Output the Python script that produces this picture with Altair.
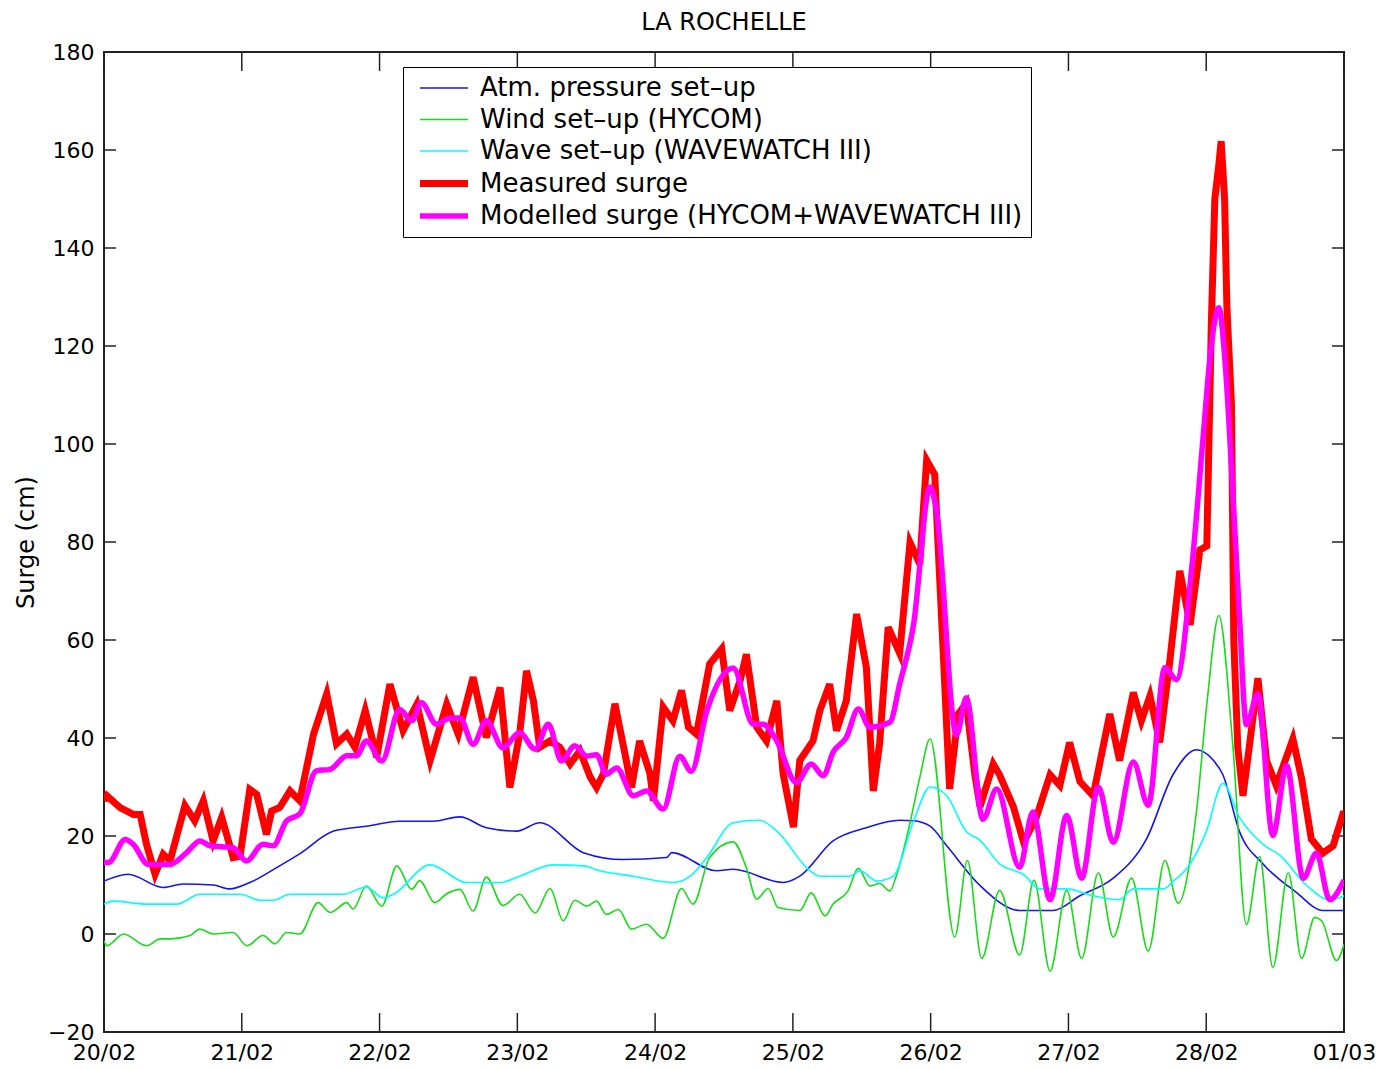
import altair as alt
import pandas as pd

FONT = "DejaVu Sans"

# ---------------- axis ticks / labels ----------------
HOUR_TICKS = [0, 24, 48, 72, 96, 120, 144, 168, 192, 216]
DATE_LABELS = ["20/02", "21/02", "22/02", "23/02", "24/02", "25/02", "26/02", "27/02", "28/02", "01/03"]
Y_TICKS = [-20, 0, 20, 40, 60, 80, 100, 120, 140, 160, 180]

SERIES = [
    "Atm. pressure set\u2013up",
    "Wind set\u2013up (HYCOM)",
    "Wave set\u2013up (WAVEWATCH III)",
    "Measured surge",
    "Modelled surge (HYCOM+WAVEWATCH III)",
]
COLORS = ["#1414f0", "#18dc18", "#00ffff", "#ff0000", "#ff00ff"]
WIDTHS = [1.6, 1.6, 1.6, 7, 5.5]

# ---------------- data (hours since 20/02 00:00, surge in cm) ----------------
atm_h = [0, 4.2, 10.3, 13.8, 19, 21.9, 25.4, 30, 34, 40, 45.7, 51.5, 57.3, 62, 66.6, 71.9, 75.9, 83.5, 90.4, 98,
         98.9, 106.7, 109.6, 118.3, 121.2, 127, 132.8, 138.6, 141, 143.9, 146.8, 152.6, 159.5, 165.3, 170, 175.8,
         181.6, 186.2, 190.3, 193.2, 194.9, 197.8, 201.9, 207.7, 212.3, 216]
atm_v = [10.8, 12.2, 9.5, 10.2, 10, 9.2, 10.5, 13.5, 16.3, 21, 22, 23, 23, 23.9, 21.7, 21, 22.7, 16.6, 15.2, 15.6,
         16.6, 12.9, 13.2, 10.5, 11.8, 19, 21.7, 23.2, 23.1, 22, 18, 9.9, 4.8, 4.8, 7.8, 11.4,
         19.4, 32.5, 37.6, 35.5, 32.5, 20.9, 14.3, 8.5, 4.8, 4.8]

wind_h = [0, 0.5, 3.4, 7.4, 9.8, 11.5, 15, 16.7, 19, 22.5, 24.9, 27.7, 29.8, 31.8, 34.1, 37.3, 39.4, 42.3, 43.4,
          45.7, 48.4, 51, 53.6, 55, 57.6, 59.7, 62, 64.3, 66.6, 69.5, 72.4, 75.1, 77.7, 80, 82, 84.1, 85.8, 87.5,
          89.6, 91.9, 94.5, 97.4, 100.6, 102.6, 105.5, 109.6, 111.9, 113.7, 115.7, 117.4, 121.2, 123.2, 125.6,
          127, 129.6, 131.4, 133.4, 135.1, 136.9, 138, 140.4, 142.1, 143.9, 148.2, 150.4, 152.9, 156, 159.5, 162,
          164.8, 167.7, 170.3, 173.2, 175.8, 179, 181.9, 184.8, 187.1, 190.3, 192.2, 194.2, 196.6, 199, 201.3,
          203.6, 206.3, 208.6, 210.9, 212.1, 214.7, 216]
wind_v = [-1.4, -2.4, 0, -2.4, -1.0, -1.0, -0.3, 1.0, 0, 0.3, -2.4, -0.3, -2.0, 0.3, 0, 6.4, 4.4, 6.4, 5.1,
          9.8, 5.7, 13.9, 9.1, 10.9, 6.4, 8.2, 9.1, 4.7, 11.6, 5.8, 8.1, 4.3, 9.3, 2.7, 6.9, 5.7, 6.7, 4.0,
          5.0, 1.0, 2.0, -0.9, 9.3, 6.1, 15.6, 18.8, 13.5, 7.1, 9.3, 5.4, 4.8, 8.4, 3.7,
          6.1, 8.8, 13.4, 9.8, 10.3, 8.8, 11.8, 22.7, 31.9, 39.8, -0.6, 15, -5, 8.9, -4.3, 11,
          -7.6, 8.9, -5, 12.5, -0.6, 11.4, -3.5, 15, 6.3, 25, 48, 65, 39, 1.9, 15.8,
          -6.8, 12.5, -5, 3.4, 2.7, -5.4, -2.1]

wave_h = [0, 1.6, 7.4, 12.7, 16.7, 23.7, 27.2, 29.5, 32.4, 41.7, 45.7, 48.6, 50.4, 56.8, 63.2, 69, 72.4, 78.2,
          83.5, 86.4, 92.2, 99.1, 102.1, 105, 109.6, 114.2, 117.2, 123, 124.7, 129.9, 131.7, 134.6, 137.5, 141,
          143.9, 146.8, 150.2, 152.6, 156, 160.2, 163, 167.7, 172.3, 176.9, 179.3, 184.5, 186.2, 189.2, 192,
          194.9, 197.8, 201.9, 204.8, 209.5, 213.5, 216]
wave_v = [6.1, 6.7, 6.1, 6.1, 8.1, 8.1, 6.9, 6.9, 8.1, 8.1, 9.6, 7.4, 8.1, 14.1, 10.5, 10.5, 11.8, 14.1,
          13.9, 12.9, 11.8, 10.5, 11.8, 15.6, 22.7, 23.2, 21, 12.9, 11.8, 11.8, 12.9, 10.8, 11.8, 23,
          30, 28.2, 20.9, 19.1, 14.3, 12.1, 9.2, 9.2, 7.8, 7, 9.2, 9.2, 10.7, 14.3, 20.9,
          30.7, 23.8, 18.3, 16.1, 9.9, 7, 7.8]

meas_h = [0, 0.5, 2.8, 5.1, 6.3, 7.4, 8.9, 10.3, 11.5, 14.1, 15.8, 17.3, 19, 20.5, 22.5, 23.7, 25.4, 26.6, 28.3,
          29.2, 30.6, 32.4, 34.1, 36.5, 38.8, 40.5, 42.3, 43.7, 45.5, 47.5, 49.8, 52.1, 54.5, 56.8, 59.7, 61.7,
          64.3, 66.6, 69, 70.7, 72.4, 73.6, 74.8, 75.9, 77.7, 79.4, 81.2, 82.9, 84.7, 85.8, 87, 89, 90.4, 91.9,
          93.3, 95.1, 95.7, 97.4, 99.1, 100.6, 101.8, 103.2, 105.5, 107.6, 109, 110.8, 111.9, 113.7, 115.4,
          117.2, 118.3, 120.1, 121.2, 123.5, 124.7, 126.4, 127.6, 129.3, 131.1, 132.8, 134, 135.1, 136.6, 138.6,
          140.4, 142.1, 143.3, 144.7, 145.9, 147.3, 148.8, 150.2, 151.7, 152.6, 154.9, 156, 158.4, 160.2, 162.4,
          164.8, 166.5, 168.2, 170, 172.3, 175.2, 176.9, 179.3, 180.7, 182.2, 183.9, 185.6, 187.4, 189.2, 190.9,
          192.1, 192.9, 193.5, 194.2, 194.6, 195.2, 195.6, 196.4, 196.8, 197.5, 198.4, 199.6, 201, 202.5, 204.2,
          207.1, 208.6, 210.3, 212.3, 214.1, 215.8, 216]
meas_v = [27.2, 28.2, 25.8, 24.4, 24.4, 18.3, 12.2, 16.3, 14.9, 26.2, 23.1, 27.2, 19, 23.8, 15.6, 15.9, 29.5,
          28.5, 20.3, 25.1, 25.8, 29.2, 27.2, 40.8, 49, 38.8, 40.8, 38.1, 45.6, 36.1, 51, 41.5, 46.9, 35.4, 46.9,
          40.8, 52.4, 40.1, 50.3, 29.9, 40.8, 53.7, 47.6, 38.1, 39.4, 38.1, 34.7, 37.4, 32, 29.9, 32.7, 47, 38.8,
          29.9, 39.4, 32.7, 27.2, 46.3, 43.5, 49.7, 42.2, 40.8, 55.1, 58.2, 45.6, 51.7, 57.1, 42.2, 39.4, 47.6,
          32.7, 21.8, 35.4, 39.4, 45.6, 51, 41.5, 47.6, 65.3, 54.4, 29.2, 38.8, 62.6, 57.3, 79.9, 75.5, 96.7,
          93.8, 64.6, 29.6, 44.9, 47.1, 32.5, 26, 34.7, 32.5, 26, 18.7, 23.8, 32.5, 30.3, 39.1, 31.1, 28.2, 44.9,
          35.4, 49.3, 43.5, 48.6, 39.1, 55.1, 74.1, 63.1, 78.4, 79.2, 125, 150, 157, 161.8, 150, 128, 108, 60,
          38, 28.2, 39.1, 52.2, 35.4, 30.3, 39.8, 31.8, 19.4, 16.5, 18, 24.5, 24.5]

mod_h = [0, 0.8, 3.7, 5.1, 7.7, 11.5, 14.4, 16.7, 18.5, 22.5, 24.8, 27.7, 29.5, 31.8, 34.1, 37.0, 39.4, 42.3, 44,
         45.7, 48.4, 51.5, 53.6, 55.3, 57.9, 60.3, 62, 64.3, 66.6, 69.5, 72.4, 75.1, 77.4, 79.7, 82, 84.1, 85.8,
         87.5, 89.3, 92.2, 94.5, 97.4, 100.3, 102.3, 105, 109.6, 113.1, 114.8, 117.2, 120.6, 123.2, 125.3, 127,
         129.3, 131.4, 133.4, 136.9, 138.6, 141, 143.9, 145, 148.5, 150.2, 153.1, 155.5, 159.5, 161.8, 164.8,
         167.7, 170.3, 173.2, 175.8, 179.3, 181.9, 184.8, 186.8, 189.5, 191.5, 192.6, 194.2, 195.2, 196.5, 197.8,
         199, 201, 203.6, 206, 208.9, 211.2, 213.5, 216]
mod_v = [14.6, 14.6, 19.3, 18.3, 14.2, 14.2, 16.6, 19, 18, 17.6, 14.9, 18.3, 18, 23.1, 24.5, 33.3, 33.6, 36.4, 36.4,
         39.4, 35.3, 45.8, 43.5, 47.2, 42.8, 44.1, 44.1, 38.7, 43.5, 38, 41.1, 37.7, 42.8, 35.3, 38.4, 36.3, 36.6,
         32.6, 33.9, 28.2, 29.2, 25.5, 36.3, 33.2, 45.5, 54.3, 42.8, 42.8, 39.4, 30.9, 34.7, 32.3, 37.1,
         40.1, 45.9, 42.2, 43.2, 51, 63, 91.2, 86.5, 40.6, 48.2, 23.4, 29.6, 13.6, 24.9, 7,
         24.2, 11.4, 30, 18.7, 35.1, 26.3, 54.4, 51.9, 75, 102, 117, 127.8, 118, 93, 64.7,
         42.7, 49, 20.1, 34.4, 11.4, 16.5, 7, 11]

series_data = [
    (SERIES[0], atm_h, atm_v, "monotone"),
    (SERIES[1], wind_h, wind_v, "monotone"),
    (SERIES[2], wave_h, wave_v, "monotone"),
    (SERIES[3], meas_h, meas_v, "linear"),
    (SERIES[4], mod_h, mod_v, "monotone"),
]
frames = []
for name, hs, vs, _ in series_data:
    assert len(hs) == len(vs), name
    frames.append(pd.DataFrame({"hour": hs, "value": vs, "series": name}))
df = pd.concat(frames, ignore_index=True)

# ---------------- scales / axes ----------------
label_expr = "[" + ",".join("'%s'" % s for s in DATE_LABELS) + "][round(datum.value / 24)]"
xscale = alt.Scale(domain=[0, 216], nice=False, zero=False)
yscale = alt.Scale(domain=[-20, 180], nice=False, zero=False)
xaxis = alt.Axis(values=HOUR_TICKS, labelExpr=label_expr, labelFont=FONT, labelFontSize=22,
                 labelColor="black", labelPadding=10, ticks=False, domain=False, grid=False,
                 title=None, labelFlush=False, labelOverlap=False)
yaxis = alt.Axis(values=Y_TICKS, labelFont=FONT, labelFontSize=22, labelColor="black", labelPadding=10,
                 ticks=False, domain=False, grid=False, title="Surge (cm)", titleFont=FONT,
                 titleFontSize=24, titleFontWeight="normal", titleColor="black", titleX=-78, titleY=490,
                 titleAngle=270, titleAlign="center", titleBaseline="middle", labelOverlap=False)

legend = alt.Legend(title=None, orient="none", legendX=299, legendY=15, symbolType="M-3,0H3",
                    symbolSize=256, symbolOffset=20, labelOffset=23, labelFont=FONT, labelFontSize=26,
                    labelColor="black", labelLimit=1000, strokeColor="black", fillColor="white",
                    padding=8, rowPadding=5.5, cornerRadius=0)

color_enc = alt.Color("series:N", scale=alt.Scale(domain=SERIES, range=COLORS), legend=legend, sort=SERIES)
width_enc = alt.StrokeWidth("series:N", scale=alt.Scale(type="ordinal", domain=SERIES, range=WIDTHS),
                            legend=legend, sort=SERIES)

base = alt.Chart(df)
layers = []
for (name, _, _, interp), w in zip(series_data, WIDTHS):
    layers.append(
        base.transform_filter(alt.datum.series == name)
        .mark_line(interpolate=interp, clip=True, strokeWidth=w)
        .encode(x=alt.X("hour:Q", scale=xscale, axis=xaxis),
                y=alt.Y("value:Q", scale=yscale, axis=yaxis),
                color=color_enc, strokeWidth=width_enc)
    )

# inward tick marks on all four sides (positions from the data scales)
ytick_df = pd.DataFrame({"value": Y_TICKS})
xtick_df = pd.DataFrame({"hour": HOUR_TICKS})
tick_color = "#222222"
left_ticks = alt.Chart(ytick_df).mark_rule(color=tick_color, strokeWidth=1.5).encode(
    y=alt.Y("value:Q", scale=yscale, axis=yaxis), x=alt.value(0), x2=alt.value(12))
right_ticks = alt.Chart(ytick_df).mark_rule(color=tick_color, strokeWidth=1.5).encode(
    y=alt.Y("value:Q", scale=yscale, axis=yaxis), x=alt.value(1228), x2=alt.value(1240))
bottom_ticks = alt.Chart(xtick_df).mark_rule(color=tick_color, strokeWidth=1.5).encode(
    x=alt.X("hour:Q", scale=xscale, axis=xaxis), y=alt.value(961), y2=alt.value(980))
top_ticks = alt.Chart(xtick_df).mark_rule(color=tick_color, strokeWidth=1.5).encode(
    x=alt.X("hour:Q", scale=xscale, axis=xaxis), y=alt.value(0), y2=alt.value(19))

chart = alt.layer(left_ticks, right_ticks, bottom_ticks, top_ticks, *layers).properties(
    width=1240,
    height=980,
    background="white",
    title=alt.TitleParams("LA ROCHELLE", font=FONT, fontSize=24, fontWeight="normal", color="black",
                          anchor="middle", offset=6),
    autosize=alt.AutoSizeParams(type="none"),
    padding={"left": 96, "top": 44, "right": 33, "bottom": 38},
).configure_view(stroke="#222222", strokeWidth=2)

chart.save("out.html", embed_options={"renderer": "svg", "actions": False})
